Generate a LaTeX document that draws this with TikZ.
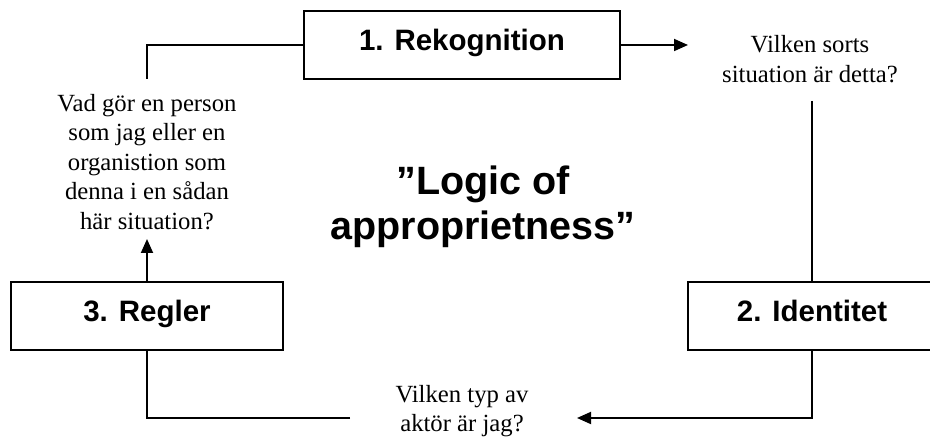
\documentclass[tikz,border=0pt]{standalone}
\usepackage{fontspec}
\setmainfont{Liberation Serif}
\newfontfamily\arialfont{Liberation Sans}
\usetikzlibrary{arrows.meta}
\begin{document}
\begin{tikzpicture}[x=1pt,y=-1pt,
  stepbox/.style={draw, line width=1.8pt, minimum height=68pt, inner sep=0pt,
    text height=21pt, text depth=10pt,
    font=\arialfont\bfseries\fontsize{29.5}{35}\selectfont},
  question/.style={align=center, inner sep=0pt,
    font=\fontsize{24.7}{29.6}\selectfont},
  conn/.style={line width=1.8pt},
  arr/.style={conn, -{Triangle[length=14pt,width=12pt]}}
]
\useasboundingbox (0,0) rectangle (930,438);
\clip (0,0) rectangle (930,438);

% boxes
\node[stepbox, minimum width=316pt] (b1) at (462,45) {1. Rekognition};
\node[stepbox, minimum width=248pt] (b2) at (812,316) {2. Identitet};
\node[stepbox, minimum width=272pt] (b3) at (147,316) {3. Regler};

% questions
\node[question] (q1) at (810,59) {Vilken sorts\\situation är detta?};
\node[question] (q2) at (462,411) {Vilken typ av\\aktör är jag?};
\node[question] (q3) at (147,162) {Vad gör en person\\som jag eller en\\organistion som\\denna i en sådan\\här situation?};

% title
\node[align=center, inner sep=0pt,
  font=\arialfont\bfseries\fontsize{39.5}{45.5}\selectfont] (title) at (483,207)
  {”Logic of\\approprietness”};

% free ends
\coordinate (a1) at (688,45);
\coordinate (c2) at (812,101);
\coordinate (a3) at (577,418);
\coordinate (c4) at (350,418);
\coordinate (a5) at (147,239);
\coordinate (c6) at (147,79);

% connectors
\draw[arr] (b1.east) -- (a1);
\draw[conn] (c2) -- (b2.north);
\draw[arr] (b2.south) |- (a3);
\draw[conn] (c4) -| (b3.south);
\draw[arr] (b3.north) -- (a5);
\draw[conn] (c6) |- (b1.west);
\end{tikzpicture}
\end{document}
